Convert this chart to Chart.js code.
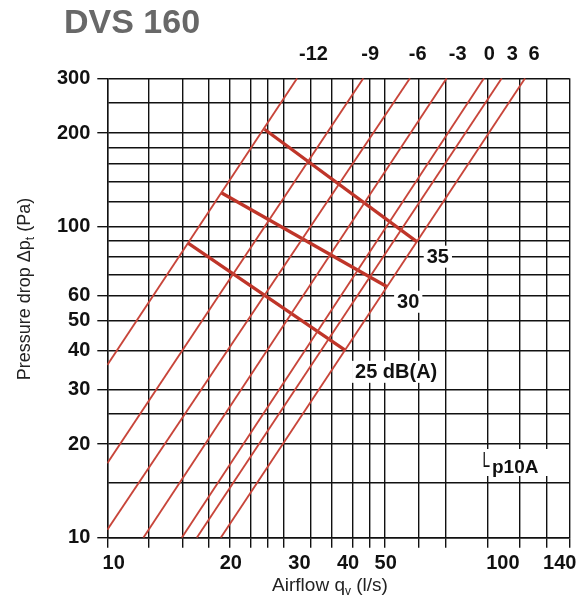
<!DOCTYPE html>
<html>
<head>
<meta charset="utf-8">
<style>
html,body{margin:0;padding:0;background:#fff;}
canvas{display:block;}
</style>
<script src="https://cdn.jsdelivr.net/npm/chart.js@4.4.1/dist/chart.umd.min.js"></script>
</head>
<body>
<canvas id="c" width="586" height="603" style="width:586px;height:603px"></canvas>
<script>
// ---------------- data ----------------
const xMin = 9.63;            // airflow at left plot edge (l/s)
const xMax = 148.1;           // airflow at right plot edge (l/s)
const yMin = 10;              // pressure drop at bottom (Pa)
const yMax = 300;             // pressure drop at top (Pa)

const xGridValues = [9.63, 12.3, 15.0, 17.5, 19.9, 22.5, 24.9, 27.4, 32.1, 36.3, 41.1, 45.6, 49.7, 60.6, 71.2, 91.2, 110.2, 129.6, 148.1];
const xTickLabels = [10, 20, 30, 40, 50, 100, 140];
const yGridValues = [10, 15, 20, 25, 30, 40, 50, 60, 70, 80, 90, 100, 120, 140, 160, 180, 200, 250, 300];
const yTickLabels = [10, 20, 30, 40, 50, 60, 100, 200, 300];

// damper setting lines (start and end points, l/s and Pa)
const damperNames   = ['-12', '-9', '-6', '-3', '0', '3', '6'];
const damperStartQ  = [9.63, 9.63, 9.63, 11.92, 14.96, 16.35, 18.84];
const damperStartP  = [35.9, 17.35, 10.6, 10, 10, 10, 10];
const damperEndQ    = [29.6, 43.8, 57.7, 71.7, 89.4, 99.3, 114.0];
const damperEndP    = [300, 300, 300, 300, 300, 300, 300];
const damperLabelQ  = [32.6, 45.6, 60.4, 76.5, 92.3, 105.7, 120.2];

// sound level lines Lp10A
const soundNames   = ['25 dB(A)', '30', '35'];
const soundStartQ  = [15.53, 18.9, 24.4];
const soundStartP  = [88.6, 128.6, 205.7];
const soundEndQ    = [39.3, 50.4, 60.06];
const soundEndP    = [40.1, 64.1, 89.5];

// ---------------- layout / style ----------------
const W = 586, H = 603;
const AREA = {left: 107.3, right: 569.3, top: 78.3, bottom: 537.7};
const PAD = {left: 40, right: W - AREA.right, top: 30, bottom: 20};
const FONT = 'Liberation Sans, Arial, Helvetica, sans-serif';
const INK = '#111111';
const CLEAR = 'rgba(0,0,0,0)';
const THIN_RED = '#c8453a';
const THICK_RED = '#bf3529';

const datasets = [];
damperNames.forEach((n, i) => {
  datasets.push({
    label: 'Damper ' + n,
    data: [{x: damperStartQ[i], y: damperStartP[i]}, {x: damperEndQ[i], y: damperEndP[i]}],
    showLine: true, borderColor: THIN_RED, borderWidth: 1.9,
    pointRadius: 0, fill: false, tension: 0
  });
});
soundNames.forEach((n, i) => {
  datasets.push({
    label: n,
    data: [{x: soundStartQ[i], y: soundStartP[i]}, {x: soundEndQ[i], y: soundEndP[i]}],
    showLine: true, borderColor: THICK_RED, borderWidth: 3.3,
    pointRadius: 0, fill: false, tension: 0
  });
});

function drawParts(ctx, parts, x, y, align) {
  let total = 0;
  parts.forEach(p => { ctx.font = p.font; p.w = ctx.measureText(p.t).width; total += p.w; });
  let cx = align === 'center' ? x - total / 2 : x;
  parts.forEach(p => { ctx.font = p.font; ctx.fillText(p.t, cx, y + (p.dy || 0)); cx += p.w; });
}

const annotations = {
  id: 'annotations',
  beforeDraw(chart) {
    const ctx = chart.ctx;
    ctx.save();
    ctx.fillStyle = '#fff';
    ctx.fillRect(0, 0, chart.width, chart.height);
    ctx.restore();
  },
  afterDatasetsDraw(chart) {
    const ctx = chart.ctx;
    const xs = chart.scales.x, ys = chart.scales.y;
    const dys = [21.7, 15, 15];
    ctx.save();
    ctx.font = 'bold 20px ' + FONT;
    ctx.textBaseline = 'middle';
    ctx.textAlign = 'left';
    soundNames.forEach((n, i) => {
      const px = xs.getPixelForValue(soundEndQ[i]) + 10;
      const py = ys.getPixelForValue(soundEndP[i]) + dys[i];
      const w = ctx.measureText(n).width;
      ctx.fillStyle = '#fff';
      ctx.fillRect(px - 3, py - 11, w + 6, 22);
      ctx.fillStyle = INK;
      ctx.fillText(n, px, py + 1);
    });
    // Lp10A
    ctx.fillStyle = '#fff';
    ctx.fillRect(481, 449, 68, 27);
    ctx.fillStyle = INK;
    ctx.textBaseline = 'alphabetic';
    ctx.save();
    ctx.translate(482.5, 467);
    ctx.scale(0.8, 1.3);
    ctx.font = '17px ' + FONT;
    ctx.fillText('L', 0, 0);
    ctx.restore();
    ctx.font = 'bold 19px ' + FONT;
    ctx.fillText('p10A', 492, 472.5);
    ctx.restore();
  },
  afterDraw(chart) {
    const ctx = chart.ctx;
    ctx.save();
    // title
    ctx.fillStyle = '#686868';
    ctx.font = 'bold 34px ' + FONT;
    ctx.textAlign = 'left';
    ctx.textBaseline = 'alphabetic';
    ctx.fillText('DVS 160', 64, 33);
    // x axis title
    ctx.fillStyle = '#222';
    drawParts(ctx, [
      {t: 'Airflow q', font: '19px ' + FONT},
      {t: 'v', font: '12px ' + FONT, dy: 4},
      {t: ' (l/s)', font: '19px ' + FONT}
    ], 330, 591, 'center');
    // y axis title
    ctx.translate(30, 289);
    ctx.rotate(-Math.PI / 2);
    drawParts(ctx, [
      {t: 'Pressure drop \u0394p', font: '18px ' + FONT},
      {t: 't', font: '12px ' + FONT, dy: 4},
      {t: ' (Pa)', font: '18px ' + FONT}
    ], 0, 0, 'center');
    ctx.restore();
  }
};

new Chart(document.getElementById('c'), {
  type: 'scatter',
  data: {datasets},
  plugins: [annotations],
  options: {
    responsive: false,
    animation: false,
    events: [],
    layout: {padding: PAD},
    plugins: {legend: {display: false}, tooltip: {enabled: false}, title: {display: false}},
    scales: {
      x: {
        type: 'logarithmic', position: 'bottom', min: xMin, max: xMax,
        afterBuildTicks: s => {
          const t = xGridValues.map(v => ({value: v, isLabel: false}))
            .concat(xTickLabels.map(v => ({value: v, isLabel: true})));
          t.sort((a, b) => a.value - b.value);
          s.ticks = t;
        },
        afterFit: s => { s.height = H - AREA.bottom - PAD.bottom; },
        grid: {
          color: c => (c.tick && c.tick.isLabel) ? CLEAR : INK,
          tickColor: c => (c.tick && c.tick.isLabel) ? CLEAR : INK,
          lineWidth: 1.4, tickLength: 10, drawTicks: true
        },
        border: {display: true, color: INK, width: 1.4},
        ticks: {
          autoSkip: false, maxRotation: 0, minRotation: 0, padding: 4, color: INK,
          font: {family: FONT, size: 20, weight: 'bold'},
          callback: (v, i, t) => t[i].isLabel ? String(v) : ''
        }
      },
      x2: {
        type: 'logarithmic', position: 'top', min: xMin, max: xMax,
        afterBuildTicks: s => {
          s.ticks = damperLabelQ.map((v, i) => ({value: v, name: damperNames[i]}));
        },
        afterFit: s => { s.height = AREA.top - PAD.top; },
        grid: {display: false, drawTicks: false},
        border: {display: false},
        ticks: {
          autoSkip: false, maxRotation: 0, minRotation: 0, padding: 12, color: INK,
          font: {family: FONT, size: 20, weight: 'bold'},
          callback: (v, i, t) => t[i].name
        }
      },
      y: {
        type: 'logarithmic', position: 'left', min: yMin, max: yMax,
        afterBuildTicks: s => {
          s.ticks = yGridValues.map(v => ({value: v, isLabel: yTickLabels.includes(v)}));
        },
        afterFit: s => { s.width = AREA.left - PAD.left; },
        grid: {
          color: INK,
          tickColor: c => (c.tick && c.tick.isLabel) ? INK : CLEAR,
          lineWidth: 1.4, tickLength: 10, drawTicks: true
        },
        border: {display: true, color: INK, width: 1.4},
        ticks: {
          autoSkip: false, padding: 7, color: INK,
          font: {family: FONT, size: 20, weight: 'bold'},
          callback: (v, i, t) => t[i].isLabel ? String(v) : ''
        }
      }
    }
  }
});
</script>
</body>
</html>
